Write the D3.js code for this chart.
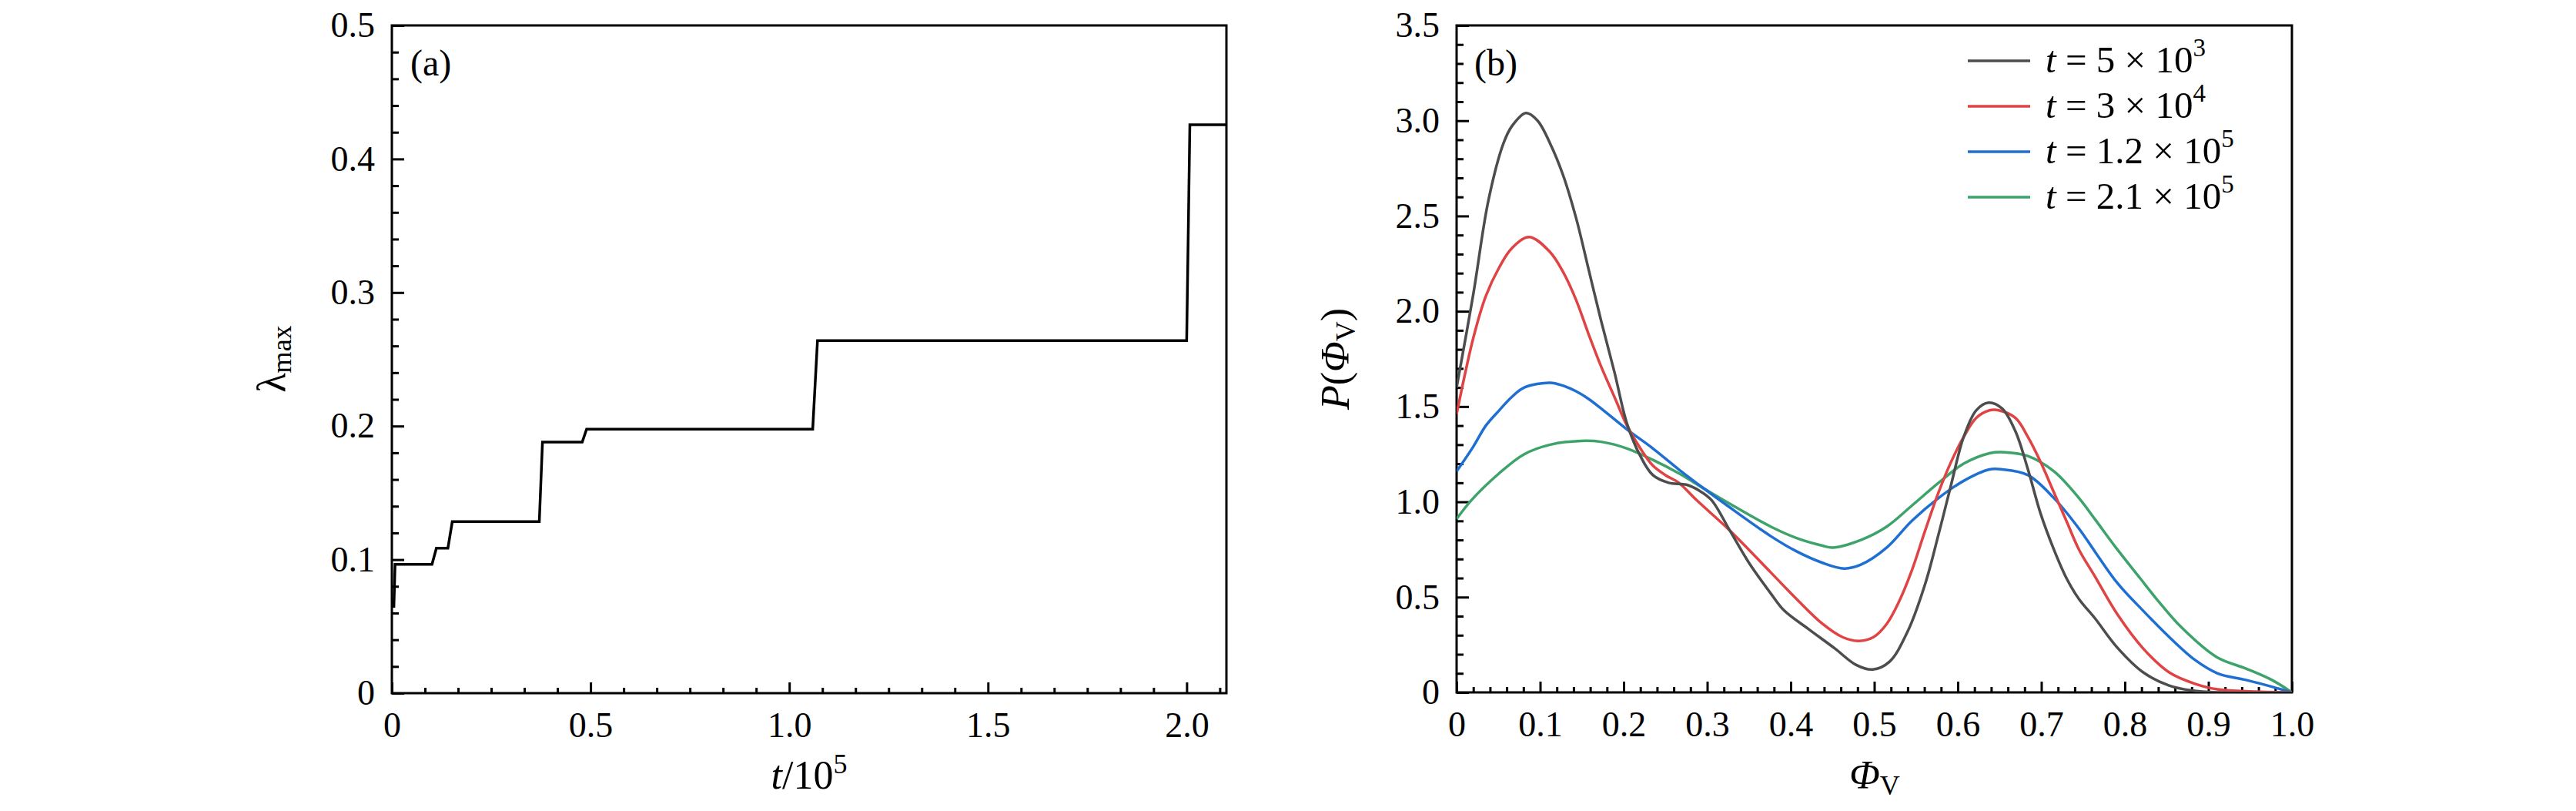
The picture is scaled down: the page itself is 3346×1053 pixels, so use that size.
<!DOCTYPE html>
<html>
<head>
<meta charset="utf-8">
<script src="https://cdn.jsdelivr.net/npm/d3@7"></script>
<style>
  body { margin: 0; background: #fff; }
  text { font-family: "Liberation Serif", "DejaVu Serif", serif; fill: #000; }
</style>
</head>
<body>
<div id="chart"></div>
<script>
// panel (a): lambda_max vs t (in units of 1e5), step-like curve
const tSteps = [0.005, 0.008, 0.101, 0.112, 0.141, 0.152, 0.371, 0.379, 0.479, 0.49, 1.059, 1.071, 2.0, 2.008, 2.1];
const lambdaSteps = [0.064, 0.0965, 0.0965, 0.1086, 0.1086, 0.1284, 0.1284, 0.188, 0.188, 0.1977, 0.1977, 0.264, 0.264, 0.4256, 0.4256];
const aXTicks = [0, 0.5, 1.0, 1.5, 2.0];
const aYTicks = [0, 0.1, 0.2, 0.3, 0.4, 0.5];

// panel (b): P(Phi_V) for four times
const phiT1 = [0, 0.02, 0.038, 0.056, 0.066, 0.083, 0.097, 0.112, 0.127, 0.143, 0.158, 0.173, 0.189, 0.204, 0.22, 0.235, 0.254, 0.275, 0.29, 0.305, 0.327, 0.35, 0.376, 0.392, 0.422, 0.453, 0.478, 0.498, 0.518, 0.54, 0.561, 0.577, 0.592, 0.607, 0.622, 0.636, 0.653, 0.669, 0.684, 0.699, 0.715, 0.73, 0.745, 0.764, 0.791, 0.822, 0.853, 0.88, 0.91, 1.0];
const pT1 = [1.60, 2.09, 2.58, 2.88, 2.97, 3.04, 3.00, 2.88, 2.72, 2.49, 2.22, 1.95, 1.68, 1.41, 1.24, 1.14, 1.10, 1.09, 1.06, 1.01, 0.85, 0.68, 0.52, 0.43, 0.33, 0.23, 0.145, 0.12, 0.16, 0.32, 0.57, 0.83, 1.09, 1.34, 1.48, 1.52, 1.49, 1.37, 1.17, 0.94, 0.75, 0.60, 0.49, 0.39, 0.235, 0.105, 0.036, 0.01, 0.0, 0.0];

const phiT2 = [0, 0.02, 0.035, 0.051, 0.066, 0.087, 0.112, 0.127, 0.143, 0.158, 0.173, 0.189, 0.204, 0.22, 0.235, 0.25, 0.266, 0.287, 0.327, 0.376, 0.407, 0.438, 0.462, 0.481, 0.499, 0.515, 0.53, 0.545, 0.561, 0.577, 0.592, 0.607, 0.622, 0.638, 0.649, 0.669, 0.684, 0.699, 0.715, 0.73, 0.745, 0.764, 0.791, 0.822, 0.853, 0.884, 0.911, 1.0];
const pT2 = [1.46, 1.86, 2.08, 2.23, 2.33, 2.39, 2.31, 2.21, 2.06, 1.88, 1.71, 1.55, 1.40, 1.28, 1.19, 1.14, 1.10, 1.01, 0.85, 0.63, 0.49, 0.36, 0.29, 0.27, 0.29, 0.36, 0.48, 0.64, 0.85, 1.05, 1.21, 1.34, 1.44, 1.48, 1.48, 1.44, 1.34, 1.21, 1.05, 0.90, 0.75, 0.61, 0.41, 0.23, 0.105, 0.045, 0.016, 0.0];

const phiT3 = [0, 0.02, 0.035, 0.051, 0.066, 0.081, 0.112, 0.127, 0.143, 0.158, 0.173, 0.204, 0.235, 0.266, 0.296, 0.321, 0.376, 0.407, 0.438, 0.464, 0.484, 0.515, 0.545, 0.577, 0.607, 0.638, 0.653, 0.684, 0.715, 0.745, 0.764, 0.791, 0.822, 0.853, 0.884, 0.911, 0.945, 0.976, 1.0];
const pT3 = [1.16, 1.29, 1.40, 1.48, 1.55, 1.60, 1.625, 1.61, 1.58, 1.54, 1.49, 1.38, 1.28, 1.17, 1.07, 0.99, 0.82, 0.74, 0.68, 0.65, 0.67, 0.76, 0.90, 1.02, 1.11, 1.17, 1.17, 1.14, 1.02, 0.86, 0.74, 0.574, 0.428, 0.291, 0.17, 0.10, 0.065, 0.03, 0.0];

const phiT4 = [0, 0.018, 0.051, 0.081, 0.112, 0.149, 0.173, 0.204, 0.235, 0.266, 0.296, 0.327, 0.376, 0.407, 0.438, 0.45, 0.484, 0.515, 0.545, 0.577, 0.607, 0.638, 0.656, 0.684, 0.715, 0.745, 0.764, 0.791, 0.819, 0.838, 0.868, 0.91, 0.945, 0.976, 1.0];
const pT4 = [0.91, 1.01, 1.15, 1.25, 1.30, 1.32, 1.315, 1.28, 1.22, 1.15, 1.07, 0.99, 0.87, 0.81, 0.77, 0.76, 0.80, 0.87, 0.98, 1.10, 1.20, 1.255, 1.26, 1.24, 1.16, 1.02, 0.91, 0.75, 0.595, 0.49, 0.34, 0.185, 0.125, 0.065, 0.0];

const seriesNames = ["5", "3", "1.2", "2.1"];
const seriesExp = ["3", "4", "5", "5"];
const seriesColors = ["#4d4d4d", "#e04343", "#1f6fd3", "#3ea36a"];
const bXTicks = [0, 0.1, 0.2, 0.3, 0.4, 0.5, 0.6, 0.7, 0.8, 0.9, 1.0];
const bYTicks = [0, 0.5, 1.0, 1.5, 2.0, 2.5, 3.0, 3.5];

const width = 3346, height = 1053;
const svg = d3.select("#chart").append("svg")
    .attr("width", width)
    .attr("height", height)
    .style("background", "#fff");

const fmt = d => d === 0 ? "0" : d3.format(".1f")(d);

// draws frame, inward ticks (major + minor) and tick labels
function drawAxes(x, y, xMajor, xMinor, yMajor, yMinor) {
    const [x0, x1] = x.range();
    const [y0, y1] = y.range();
    const g = svg.append("g");

    const styleAxis = sel => {
        sel.attr("font-family", null);
        sel.select(".domain").remove();
        sel.selectAll(".tick line").attr("stroke", "#000").attr("stroke-width", 3);
        sel.selectAll(".tick text")
            .attr("font-size", 46)
            .style("font-family", "'Liberation Serif', serif")
            .attr("fill", "#000");
    };

    g.append("g").attr("transform", `translate(0,${y0})`)
        .call(d3.axisBottom(x).tickValues(xMinor).tickSize(-7).tickFormat(""))
        .call(styleAxis);
    g.append("g").attr("transform", `translate(0,${y0})`)
        .call(d3.axisBottom(x).tickValues(xMajor).tickSize(-14).tickPadding(24).tickFormat(fmt))
        .call(styleAxis);
    g.append("g").attr("transform", `translate(${x0},0)`)
        .call(d3.axisLeft(y).tickValues(yMinor).tickSize(-9).tickFormat(""))
        .call(styleAxis);
    g.append("g").attr("transform", `translate(${x0},0)`)
        .call(d3.axisLeft(y).tickValues(yMajor).tickSize(-16).tickPadding(22).tickFormat(fmt))
        .call(styleAxis);

    g.append("rect")
        .attr("x", x0).attr("y", y1)
        .attr("width", x1 - x0).attr("height", y0 - y1)
        .attr("fill", "none")
        .attr("stroke", "#000")
        .attr("stroke-width", 3);
}

//---------- panel (a)
const xa = d3.scaleLinear().domain([0, 2.1]).range([509, 1593]);
const ya = d3.scaleLinear().domain([0, 0.5]).range([900, 33]);

const aXMinor = d3.range(0, 2.1001, 0.5 / 6).filter(v => Math.abs(v * 2 - Math.round(v * 2)) > 1e-6);
const aYMinor = d3.range(0, 0.5001, 0.02).filter(v => Math.abs(v * 10 - Math.round(v * 10)) > 1e-6);
drawAxes(xa, ya, aXTicks, aXMinor, aYTicks, aYMinor);

const stepLine = d3.line()
    .x(d => xa(d[0]))
    .y(d => ya(d[1]));

svg.append("path")
    .attr("d", stepLine(d3.zip(tSteps, lambdaSteps)))
    .attr("fill", "none")
    .attr("stroke", "#000")
    .attr("stroke-width", 3.5)
    .attr("stroke-linejoin", "miter");

svg.append("text").attr("x", 533).attr("y", 98)
    .attr("font-size", 48).text("(a)");

// y title: lambda_max
const aYTitle = svg.append("text")
    .attr("transform", "translate(370,466) rotate(-90)")
    .attr("text-anchor", "middle")
    .attr("font-size", 52);
aYTitle.append("tspan").text("λ");
aYTitle.append("tspan").attr("font-size", 36).attr("dy", 8).text("max");

// x title: t/10^5
const aXTitle = svg.append("text")
    .attr("x", 1051).attr("y", 1024)
    .attr("text-anchor", "middle")
    .attr("font-size", 52);
aXTitle.append("tspan").attr("font-style", "italic").text("t");
aXTitle.append("tspan").text("/10");
aXTitle.append("tspan").attr("font-size", 36).attr("dy", -20).text("5");

//---------- panel (b)
const xb = d3.scaleLinear().domain([0, 1]).range([1892, 2977]);
const yb = d3.scaleLinear().domain([0, 3.5]).range([899, 33]);

const bXMinor = d3.range(0, 1.0001, 0.02).filter(v => Math.abs(v * 10 - Math.round(v * 10)) > 1e-6);
const bYMinor = d3.range(0, 3.5001, 0.1).filter(v => Math.abs(v * 2 - Math.round(v * 2)) > 1e-6);
drawAxes(xb, yb, bXTicks, bXMinor, bYTicks, bYMinor);

const curve = d3.line()
    .x(d => xb(d[0]))
    .y(d => yb(d[1]))
    .curve(d3.curveCatmullRom.alpha(0.5));

const seriesData = [
    d3.zip(phiT1, pT1),
    d3.zip(phiT2, pT2),
    d3.zip(phiT3, pT3),
    d3.zip(phiT4, pT4)
];

svg.append("defs").append("clipPath").attr("id", "clipB")
    .append("rect")
    .attr("x", 1892).attr("y", 33)
    .attr("width", 2977 - 1892).attr("height", 899 - 33);

// draw green first so black/red sit on top like the reference
const drawOrder = [3, 2, 1, 0];
svg.append("g").attr("clip-path", "url(#clipB)")
    .selectAll("path")
    .data(drawOrder)
    .join("path")
    .attr("d", i => curve(seriesData[i]))
    .attr("fill", "none")
    .attr("stroke", i => seriesColors[i])
    .attr("stroke-width", 3.5);

svg.append("text").attr("x", 1915).attr("y", 98)
    .attr("font-size", 48).text("(b)");

// legend
const legend = svg.append("g");
const rowY = [79, 138, 197, 256];
seriesNames.forEach((name, i) => {
    legend.append("line")
        .attr("x1", 2556).attr("x2", 2637)
        .attr("y1", rowY[i]).attr("y2", rowY[i])
        .attr("stroke", seriesColors[i])
        .attr("stroke-width", 3.5);
    const txt = legend.append("text")
        .attr("x", 2657).attr("y", rowY[i] + 15)
        .attr("font-size", 49);
    txt.append("tspan").attr("font-style", "italic").text("t");
    txt.append("tspan").text(" = " + name + " × 10");
    txt.append("tspan").attr("font-size", 33).attr("dy", -21).text(seriesExp[i]);
});

// y title: P(Phi_V)
const bYTitle = svg.append("text")
    .attr("transform", "translate(1752,466) rotate(-90)")
    .attr("text-anchor", "middle")
    .attr("font-size", 52);
bYTitle.append("tspan").attr("font-style", "italic").text("P");
bYTitle.append("tspan").text("(");
bYTitle.append("tspan").attr("font-style", "italic").text("Φ");
bYTitle.append("tspan").attr("font-size", 36).attr("dy", 8).text("V");
bYTitle.append("tspan").attr("dy", -8).text(")");

// x title: Phi_V
const bXTitle = svg.append("text")
    .attr("x", 2435).attr("y", 1024)
    .attr("text-anchor", "middle")
    .attr("font-size", 52);
bXTitle.append("tspan").attr("font-style", "italic").text("Φ");
bXTitle.append("tspan").attr("font-size", 36).attr("dy", 8).text("V");
</script>
</body>
</html>
